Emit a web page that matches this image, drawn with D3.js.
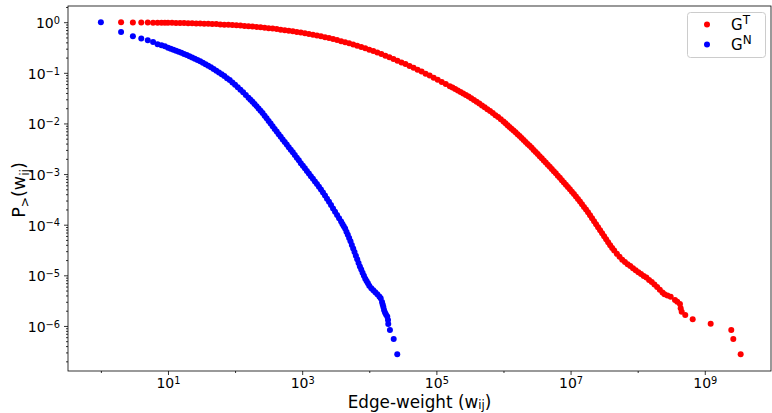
<!DOCTYPE html>
<html><head><meta charset="utf-8">
<script src="https://cdn.jsdelivr.net/npm/d3@7"></script>
<style>body{margin:0;background:#fff}svg{display:block}text{font-family:"DejaVu Sans",sans-serif;fill:#000}</style>
</head><body><svg id="c" width="772" height="413"></svg>
<script>
// Data: [log10(edge weight), log10(P>(w))]
const seriesNames = ["T", "N"];
const seriesColors = ["#ff0000", "#0000ff"];
const redPoints = [
[0.301,0],[0.477,-0.004],[0.602,-0.006],[0.699,-0.008],[0.778,-0.009],[0.845,-0.010],[0.903,-0.011],[0.954,-0.012],[1.0,-0.012],
[1.06,-0.013],[1.12,-0.014],[1.18,-0.015],[1.24,-0.017],[1.30,-0.019],[1.36,-0.021],[1.42,-0.024],[1.48,-0.027],[1.54,-0.029],[1.60,-0.031],
[1.66,-0.034],[1.72,-0.038],[1.78,-0.043],[1.84,-0.048],[1.90,-0.051],[1.96,-0.056],[2.02,-0.061],[2.08,-0.067],[2.14,-0.073],[2.20,-0.079],
[2.26,-0.086],[2.32,-0.093],[2.38,-0.102],[2.44,-0.110],[2.50,-0.118],[2.56,-0.126],[2.62,-0.136],[2.68,-0.147],[2.74,-0.158],[2.80,-0.169],
[2.86,-0.180],[2.92,-0.192],[2.98,-0.205],[3.04,-0.217],[3.10,-0.231],[3.16,-0.247],[3.22,-0.263],[3.28,-0.279],[3.34,-0.296],[3.40,-0.314],
[3.46,-0.334],[3.52,-0.354],[3.58,-0.374],[3.64,-0.395],[3.70,-0.417],[3.76,-0.441],[3.82,-0.464],[3.88,-0.489],[3.94,-0.516],[4.00,-0.542],
[4.06,-0.571],[4.12,-0.601],[4.18,-0.630],[4.24,-0.662],[4.30,-0.694],[4.36,-0.727],[4.42,-0.761],[4.48,-0.794],[4.54,-0.828],[4.60,-0.864],
[4.66,-0.901],[4.72,-0.937],[4.78,-0.976],[4.84,-1.016],[4.90,-1.055],[4.96,-1.097],[5.02,-1.138],[5.08,-1.180],[5.14,-1.223],[5.20,-1.263],
[5.24,-1.291],[5.28,-1.320],[5.32,-1.350],[5.36,-1.377],[5.40,-1.407],[5.44,-1.437],[5.48,-1.470],[5.52,-1.504],[5.56,-1.536],[5.60,-1.571],
[5.64,-1.607],[5.68,-1.644],[5.72,-1.682],[5.76,-1.719],[5.80,-1.755],[5.84,-1.794],[5.88,-1.836],[5.92,-1.873],[5.96,-1.915],[6.00,-1.962],
[6.03,-1.998],[6.06,-2.034],[6.09,-2.069],[6.12,-2.107],[6.15,-2.140],[6.18,-2.176],[6.21,-2.211],[6.24,-2.247],[6.27,-2.287],[6.30,-2.326],
[6.33,-2.364],[6.36,-2.405],[6.39,-2.443],[6.42,-2.482],[6.45,-2.524],[6.48,-2.563],[6.51,-2.605],[6.54,-2.646],[6.57,-2.688],[6.60,-2.731],
[6.63,-2.773],[6.66,-2.814],[6.69,-2.856],[6.72,-2.899],[6.75,-2.943],[6.78,-2.986],[6.81,-3.032],[6.84,-3.075],[6.87,-3.121],[6.90,-3.166],
[6.93,-3.211],[6.96,-3.257],[6.99,-3.302],[7.02,-3.348],[7.05,-3.395],[7.08,-3.443],[7.11,-3.490],[7.14,-3.541],[7.17,-3.595],[7.20,-3.648],
[7.23,-3.701],[7.26,-3.755],[7.29,-3.814],[7.32,-3.874],[7.35,-3.933],[7.38,-3.992],[7.41,-4.051],[7.44,-4.109],[7.47,-4.168],[7.50,-4.229],
[7.53,-4.289],[7.56,-4.348],[7.59,-4.407],[7.62,-4.459],[7.65,-4.510],
[7.69,-4.575],[7.73,-4.634],[7.77,-4.690],[7.81,-4.737],[7.85,-4.781],[7.89,-4.818],[7.93,-4.860],[7.97,-4.899],[8.01,-4.937],[8.05,-4.974],
[8.09,-5.012],[8.13,-5.045],[8.17,-5.091],[8.21,-5.134],[8.25,-5.182],[8.29,-5.231],[8.33,-5.283],[8.37,-5.340],[8.40,-5.374],
[8.444,-5.401],[8.492,-5.423],[8.556,-5.488],[8.590,-5.522],[8.630,-5.567],[8.641,-5.652],[8.656,-5.719],[8.709,-5.785],[8.820,-5.870],
[9.088,-5.956],[9.395,-6.081],[9.425,-6.259],[9.535,-6.561]
];
const bluePoints = [
[0,0],[0.301,-0.192],[0.477,-0.277],[0.602,-0.324],[0.699,-0.356],[0.778,-0.389],[0.845,-0.435],[0.903,-0.455],[0.954,-0.476],[1.0,-0.504],
[1.04,-0.522],[1.08,-0.542],[1.12,-0.563],[1.16,-0.583],[1.20,-0.605],[1.24,-0.626],[1.28,-0.650],[1.32,-0.674],[1.36,-0.698],[1.40,-0.723],
[1.44,-0.747],[1.48,-0.773],[1.52,-0.800],[1.56,-0.830],[1.60,-0.862],[1.64,-0.891],[1.68,-0.923],[1.72,-0.957],[1.76,-0.992],[1.80,-1.028],
[1.84,-1.065],[1.88,-1.105],[1.92,-1.144],[1.96,-1.190],[2.00,-1.235],[2.04,-1.283],[2.08,-1.334],[2.12,-1.385],[2.16,-1.437],[2.20,-1.490],
[2.23,-1.530],[2.26,-1.573],[2.29,-1.617],[2.32,-1.660],[2.35,-1.703],[2.38,-1.747],[2.41,-1.796],[2.44,-1.846],[2.47,-1.897],[2.50,-1.951],
[2.53,-2.002],[2.56,-2.055],[2.59,-2.109],[2.62,-2.160],[2.65,-2.213],[2.68,-2.265],[2.71,-2.316],[2.74,-2.368],[2.77,-2.417],[2.80,-2.468],
[2.83,-2.520],[2.86,-2.571],[2.89,-2.623],[2.92,-2.676],[2.95,-2.729],[2.98,-2.785],[3.01,-2.836],[3.04,-2.887],[3.07,-2.939],[3.10,-2.990],
[3.13,-3.042],[3.16,-3.093],[3.19,-3.146],[3.22,-3.198],[3.25,-3.249],[3.28,-3.306],[3.31,-3.366],[3.34,-3.425],[3.37,-3.486],[3.40,-3.547],
[3.43,-3.613],[3.46,-3.678],[3.49,-3.743],[3.52,-3.808],[3.55,-3.872],[3.58,-3.939],
[3.60,-3.986],[3.62,-4.032],[3.64,-4.077],[3.66,-4.138],[3.68,-4.200],[3.70,-4.265],[3.72,-4.328],[3.74,-4.401],[3.76,-4.470],[3.78,-4.540],
[3.80,-4.613],[3.82,-4.684],[3.84,-4.755],[3.86,-4.824],[3.88,-4.885],[3.90,-4.949],[3.92,-5.010],[3.94,-5.069],[3.96,-5.113],[3.98,-5.158],
[4.00,-5.208],[4.03,-5.257],[4.06,-5.296],[4.09,-5.336],[4.12,-5.373],[4.15,-5.419],[4.17,-5.455],[4.19,-5.528],[4.20,-5.578],[4.21,-5.626],[4.22,-5.686],
[4.234,-5.735],[4.249,-5.775],[4.268,-5.814],[4.279,-5.883],[4.283,-5.962],[4.308,-6.081],[4.364,-6.259],[4.417,-6.561]
];
const xMajorExp = [1, 3, 5, 7, 9];
const xMinorExp = [0, 2, 4, 6, 8];
const yMajorExp = [0, -1, -2, -3, -4, -5, -6];

const svg = d3.select("#c");
const L = 68, R = 771, T = 6, B = 371;
const x = d3.scaleLog().domain([Math.pow(10, -0.49), Math.pow(10, 9.987)]).range([L, R]);
const y = d3.scaleLog().domain([Math.pow(10, -6.89), Math.pow(10, 0.32)]).range([B, T]);

function supLabel(sel) {
  sel.each(function(d) {
    const e = Math.round(Math.log10(d));
    const t = d3.select(this).text(null);
    t.append("tspan").text("10");
    t.append("tspan").attr("dy", "-0.42em").attr("font-size", "0.7em").text(e < 0 ? "\u2212" + (-e) : String(e));
  });
}

// minor ticks
svg.append("g").attr("transform", `translate(0,${B})`)
  .call(d3.axisBottom(x).tickValues(xMinorExp.map(e => Math.pow(10, e))).tickSize(2).tickSizeOuter(0).tickFormat(""))
  .call(g => g.select(".domain").remove());
svg.append("g").attr("transform", `translate(${L},0)`)
  .call(d3.axisLeft(y).tickValues(y.ticks().filter(v => Math.abs(Math.log10(v) - Math.round(Math.log10(v))) > 1e-6)).tickSize(2).tickSizeOuter(0).tickFormat(""))
  .call(g => g.select(".domain").remove());

// major ticks
const gx = svg.append("g").attr("transform", `translate(0,${B})`)
  .call(d3.axisBottom(x).tickValues(xMajorExp.map(e => Math.pow(10, e))).tickSize(4).tickSizeOuter(0).tickPadding(2))
  .call(g => g.select(".domain").remove());
gx.selectAll(".tick text").attr("font-size", 14).attr("font-family", "DejaVu Sans").attr("dy", "0.8em").call(supLabel);
const gy = svg.append("g").attr("transform", `translate(${L},0)`)
  .call(d3.axisLeft(y).tickValues(yMajorExp.map(e => Math.pow(10, e))).tickSize(4).tickSizeOuter(0).tickPadding(4))
  .call(g => g.select(".domain").remove());
gy.selectAll(".tick text").attr("font-size", 14).attr("font-family", "DejaVu Sans").attr("dy", "0.38em").call(supLabel);
svg.selectAll(".tick line").attr("stroke", "#000").attr("stroke-width", 0.8);

// frame
svg.append("rect").attr("x", L).attr("y", T).attr("width", R - L).attr("height", B - T)
  .attr("fill", "none").attr("stroke", "#000").attr("stroke-width", 0.8);

// points
const r = 3;
[[redPoints, seriesColors[0]], [bluePoints, seriesColors[1]]].forEach(([pts, col]) => {
  svg.append("g").selectAll("circle").data(pts).join("circle")
    .attr("cx", d => x(Math.pow(10, d[0])))
    .attr("cy", d => y(Math.pow(10, d[1])))
    .attr("r", r).attr("fill", col);
});

// axis labels
const xl = svg.append("text").attr("x", (L + R) / 2).attr("y", 408).attr("text-anchor", "middle").attr("font-size", 16.8);
xl.append("tspan").text("Edge-weight (w");
xl.append("tspan").attr("font-size", "0.7em").attr("dy", "0.12em").text("ij");
xl.append("tspan").attr("dy", "-0.084em").text(")");

const yl = svg.append("text").attr("transform", "translate(25,190) rotate(-90)").attr("text-anchor", "middle").attr("font-size", 17.5);
yl.append("tspan").text("P");
yl.append("tspan").attr("font-size", "0.7em").attr("dy", "0.3em").text(">");
yl.append("tspan").attr("dy", "-0.21em").text("(w");
yl.append("tspan").attr("font-size", "0.7em").attr("dy", "0.3em").text("ij");
yl.append("tspan").attr("dy", "-0.21em").text(")");

// legend
const lg = svg.append("g");
lg.append("rect").attr("x", 687.5).attr("y", 12.5).attr("width", 78).attr("height", 45).attr("rx", 3)
  .attr("fill", "#fff").attr("fill-opacity", 0.8).attr("stroke", "#cccccc").attr("stroke-width", 1);
seriesNames.forEach((n, i) => {
  const cy = 24.5 + i * 20;
  lg.append("circle").attr("cx", 707).attr("cy", cy).attr("r", r).attr("fill", seriesColors[i]);
  const t = lg.append("text").attr("x", 731).attr("y", cy + 5.5).attr("font-size", 15);
  t.append("tspan").text("G");
  t.append("tspan").attr("font-size", "0.8em").attr("dy", "-0.5em").text(n);
});
</script></body></html>
